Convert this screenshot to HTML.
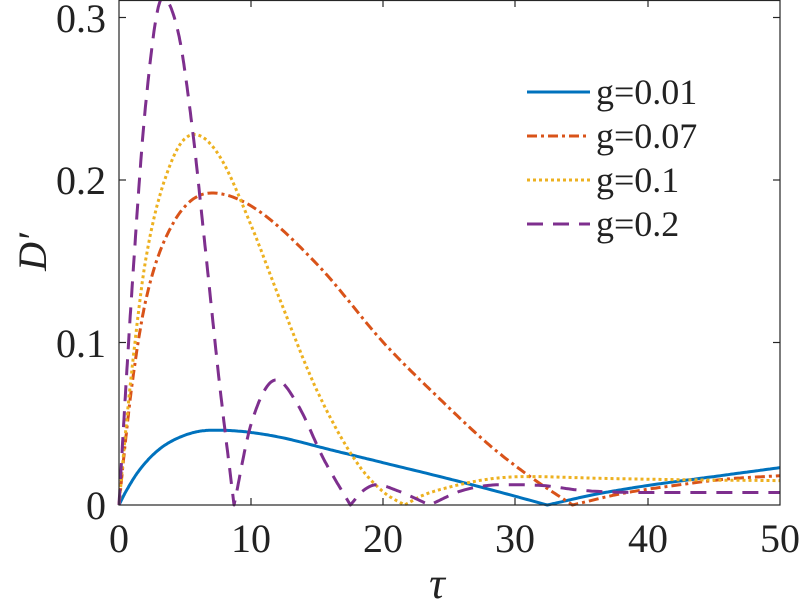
<!DOCTYPE html>
<html><head><meta charset="utf-8"><style>
html,body{margin:0;padding:0;background:#fff;}
text{font-family:"Liberation Serif","Times New Roman",serif;fill:#222;}
</style></head><body>
<svg id="s" width="800" height="604" xmlns="http://www.w3.org/2000/svg">
<rect x="0" y="0" width="800" height="604" fill="#fff"/>
<g id="curves"></g>
<rect x="119" y="0.5" width="661" height="504.5" fill="none" stroke="#262626" stroke-width="1.2"/>
<g stroke="#262626" stroke-width="1.2">
<line x1="251" y1="505" x2="251" y2="498"/><line x1="383" y1="505" x2="383" y2="498"/><line x1="515" y1="505" x2="515" y2="498"/><line x1="648" y1="505" x2="648" y2="498"/>
<line x1="251" y1="1" x2="251" y2="7"/><line x1="383" y1="1" x2="383" y2="7"/><line x1="515" y1="1" x2="515" y2="7"/><line x1="648" y1="1" x2="648" y2="7"/>
<line x1="119" y1="342.5" x2="126" y2="342.5"/><line x1="119" y1="180" x2="126" y2="180"/><line x1="119" y1="17.5" x2="126" y2="17.5"/>
<line x1="780" y1="342.5" x2="773" y2="342.5"/><line x1="780" y1="180" x2="773" y2="180"/><line x1="780" y1="17.5" x2="773" y2="17.5"/>
</g>
<g font-size="40" text-anchor="middle" font-family="Liberation Serif, serif">
<text x="119" y="552">0</text><text x="251" y="552">10</text><text x="383" y="552">20</text><text x="515" y="552">30</text><text x="648" y="552">40</text><text x="780" y="552">50</text>
</g>
<g font-size="40" text-anchor="end" font-family="Liberation Serif, serif">
<text x="106" y="519">0</text><text x="106" y="357">0.1</text><text x="106" y="194">0.2</text><text x="106" y="32">0.3</text>
</g>
<text x="437" y="598" font-size="44" font-style="italic" text-anchor="middle" font-family="Liberation Serif, serif">τ</text>
<text transform="translate(46,252) rotate(-90)" font-size="40" font-style="italic" text-anchor="middle" font-family="Liberation Serif, serif">D′</text>
<g stroke-width="3" fill="none">
<line x1="527" y1="92" x2="590" y2="92" stroke="#0072bd"/>
<line x1="527" y1="136" x2="590" y2="136" stroke="#d95319" stroke-dasharray="10 4 3 4"/>
<line x1="527" y1="180" x2="590" y2="180" stroke="#edb120" stroke-dasharray="3 3"/>
<line x1="527" y1="224" x2="590" y2="224" stroke="#7e2f8e" stroke-dasharray="16 10"/>
</g>
<g font-size="36" font-family="Liberation Serif, serif">
<text x="596" y="104">g=0.01</text><text x="596" y="148">g=0.07</text><text x="596" y="192">g=0.1</text><text x="596" y="236">g=0.2</text>
</g>
</svg>
<script>
function X(t){return 119+t*13.22;}
function Y(v){return 505-v*1625;}
function mono(pts){
 var n=pts.length,xs=pts.map(p=>p[0]),ys=pts.map(p=>p[1]),d=[],m=[];
 for(var i=0;i<n-1;i++)d.push((ys[i+1]-ys[i])/(xs[i+1]-xs[i]));
 m[0]=d[0];m[n-1]=d[n-2];
 for(i=1;i<n-1;i++){m[i]=(d[i-1]*d[i]<=0)?0:(d[i-1]+d[i])/2;}
 for(i=0;i<n-1;i++){if(d[i]==0){m[i]=m[i+1]=0;continue;}var a=m[i]/d[i],b=m[i+1]/d[i],s=a*a+b*b;if(s>9){var t=3/Math.sqrt(s);m[i]=t*a*d[i];m[i+1]=t*b*d[i];}}
 var out=[];
 for(i=0;i<n-1;i++){var h=xs[i+1]-xs[i];for(var k=0;k<20;k++){var u=k/20,h00=2*u*u*u-3*u*u+1,h10=u*u*u-2*u*u+u,h01=-2*u*u*u+3*u*u,h11=u*u*u-u*u;
 out.push([xs[i]+u*h,h00*ys[i]+h10*h*m[i]+h01*ys[i+1]+h11*h*m[i+1]]);}}
 out.push(pts[n-1]);return out;}
function path(segs){var all=[];segs.forEach(function(s,j){var p=mono(s);if(j>0)p.shift();all=all.concat(p);});
 return "M"+all.map(p=>X(p[0]).toFixed(1)+","+Y(Math.max(0,p[1])).toFixed(1)).join(" L");}
var series=[
 {c:"#0072bd",d:"",s:[[[0,0],[0.5,0.008],[1.5,0.021],[3,0.034],[5,0.043],[7,0.046],[9,0.0455],[12,0.042],[16,0.034],[20,0.026],[25,0.016],[29,0.0075],[32.4,0]],[[32.4,0],[36,0.0065],[40,0.012],[45,0.0175],[50,0.023]]]},
 {c:"#d95319",d:"10 4 3 4",s:[[[0,0],[0.5,0.04],[1,0.075],[2,0.125],[4,0.172],[7,0.192],[10,0.184],[15,0.148],[20,0.1],[24.3,0.065],[28,0.037],[31,0.018],[34.3,0]],[[34.3,0],[38,0.007],[42,0.012],[46,0.016],[50,0.018]]]},
 {c:"#edb120",d:"3 3",s:[[[0,0],[0.5,0.045],[1,0.085],[2,0.15],[4,0.212],[5.7,0.228],[7.5,0.216],[10,0.172],[12,0.13],[15,0.07],[18,0.026],[20,0.008],[21.6,0]],[[21.6,0],[23,0.006],[25,0.011],[28,0.016],[31,0.0175],[36,0.0165],[43,0.0155],[50,0.015]]]},
 {c:"#7e2f8e",d:"16 10",s:[[[0,0],[0.5,0.07],[1,0.135],[2,0.245],[3.3,0.312],[4.5,0.29],[5.5,0.235],[6.5,0.16],[7.6,0.075],[8.7,0]],[[8.7,0],[10,0.05],[11.9,0.077],[13.5,0.062],[15.5,0.028],[17.5,0]],[[17.5,0],[18.5,0.009],[19.5,0.0125],[21,0.009],[23.5,0]],[[23.5,0],[26,0.009],[29,0.0125],[32,0.012],[35,0.009],[40,0.0077],[50,0.0077]]]}
];
var g=document.getElementById("curves"),html="";
series.forEach(function(s){html+='<path d="'+path(s.s)+'" fill="none" stroke="'+s.c+'" stroke-width="3" stroke-linejoin="round"'+(s.d?' stroke-dasharray="'+s.d+'"':'')+'/>';});
g.innerHTML=html;
</script>
</body></html>
